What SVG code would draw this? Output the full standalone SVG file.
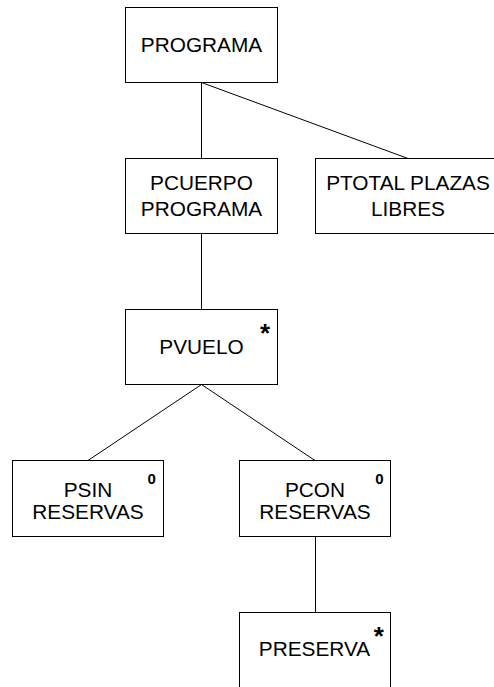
<svg xmlns="http://www.w3.org/2000/svg" width="494" height="687" viewBox="0 0 494 687">
<style>
.box{fill:#fff;stroke:#000;stroke-width:1}
.lbl{font-family:"Liberation Sans",Arial,sans-serif;font-size:20.8px;fill:#000;text-anchor:middle}
.star{font-family:"Liberation Sans",Arial,sans-serif;font-size:26px;font-weight:bold;fill:#000;text-anchor:middle}
.zero{font-family:"Liberation Sans",Arial,sans-serif;font-size:15px;font-weight:bold;fill:#000;text-anchor:middle}
.conn{stroke:#000;stroke-width:1;fill:none}
</style>
<rect width="494" height="687" fill="#fff"/>
<g id="connectors">
<line class="conn" x1="201.5" y1="82.5" x2="201.5" y2="158.5"/>
<line class="conn" x1="201.5" y1="82.5" x2="408" y2="158.5"/>
<line class="conn" x1="201.5" y1="233.5" x2="201.5" y2="309.5"/>
<line class="conn" x1="201.5" y1="384.5" x2="88" y2="460.5"/>
<line class="conn" x1="201.5" y1="384.5" x2="315" y2="460.5"/>
<line class="conn" x1="315.5" y1="536.5" x2="315.5" y2="612.5"/>
</g>
<g id="programa">
<rect class="box" x="125.5" y="7.5" width="152" height="75"/>
<text class="lbl" x="201.5" y="52">PROGRAMA</text>
</g>
<g id="pcuerpo">
<rect class="box" x="125.5" y="158.5" width="152" height="75"/>
<text class="lbl" x="201.5" y="190">PCUERPO</text>
<text class="lbl" x="201.5" y="216">PROGRAMA</text>
</g>
<g id="ptotal">
<rect class="box" x="315.5" y="158.5" width="186" height="75"/>
<text class="lbl" x="408" y="190">PTOTAL PLAZAS</text>
<text class="lbl" x="408" y="216">LIBRES</text>
</g>
<g id="pvuelo">
<rect class="box" x="125.5" y="309.5" width="152" height="75"/>
<text class="lbl" x="201.5" y="354">PVUELO</text>
<text class="star" x="265" y="341.5">*</text>
</g>
<g id="psin">
<rect class="box" x="12.5" y="460.5" width="151" height="76"/>
<text class="lbl" x="88" y="497">PSIN</text>
<text class="lbl" x="88" y="518.5">RESERVAS</text>
<text class="zero" x="151.7" y="483.5">0</text>
</g>
<g id="pcon">
<rect class="box" x="239.5" y="460.5" width="151" height="76"/>
<text class="lbl" x="315" y="497">PCON</text>
<text class="lbl" x="315" y="518.5">RESERVAS</text>
<text class="zero" x="379.5" y="483.5">0</text>
</g>
<g id="preserva">
<rect class="box" x="239.5" y="612.5" width="151" height="76"/>
<text class="lbl" x="314.5" y="656">PRESERVA</text>
<text class="star" x="378.7" y="645">*</text>
</g>
</svg>
